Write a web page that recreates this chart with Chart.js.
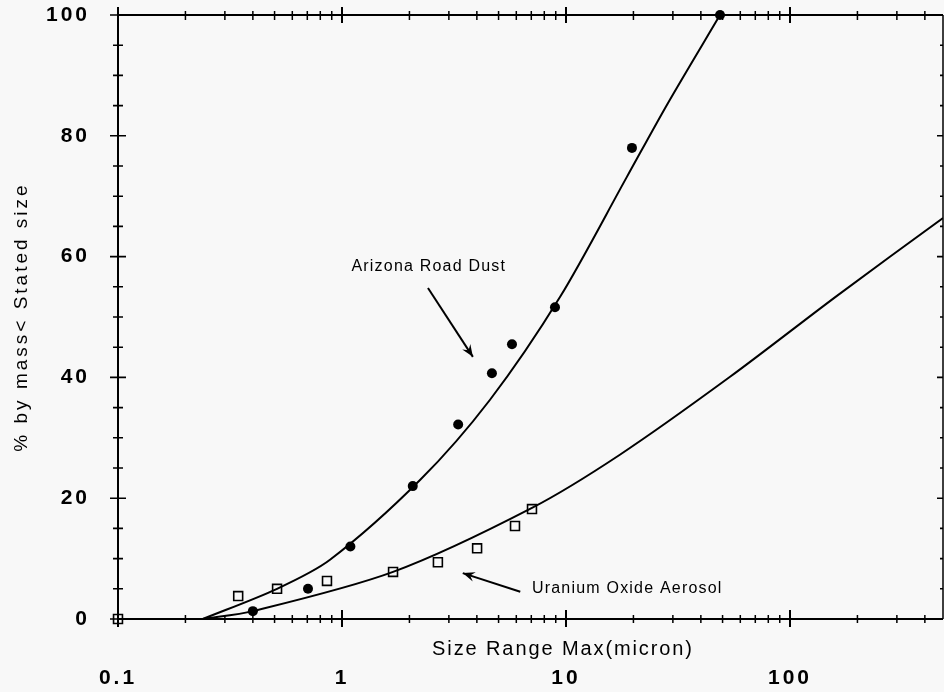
<!DOCTYPE html>
<html>
<head>
<meta charset="utf-8">
<script src="https://cdn.jsdelivr.net/npm/chart.js@4.4.1/dist/chart.umd.min.js"></script>
<style>
  html, body { margin: 0; padding: 0; background: #f8f8f8; }
  #myChart { display: block; }
</style>
</head>
<body>
<canvas id="myChart" width="944" height="692"></canvas>
<script>
// Arizona road dust, measured points (size in micron, cumulative % by mass)
var dustSize = [0.40, 0.705, 1.09, 2.07, 3.30, 4.67, 5.74, 8.93, 19.7, 48.7];
var dustPct  = [1.3, 5.0, 12.0, 22.0, 32.2, 40.7, 45.5, 51.6, 78.0, 100];
// fitted curve through the dust data
var dustFitSize = [0.239, 0.513, 0.884, 2.23, 4.58, 9.4, 18.7, 28.5, 48.7];
var dustFitPct  = [0, 5.0, 9.8, 23.0, 36.3, 53.3, 73.2, 85.4, 100];

// uranium oxide aerosol, measured points
var uoxSize = [0.1, 0.344, 0.513, 0.857, 1.69, 2.68, 4.01, 5.92, 7.05];
var uoxPct  = [0, 3.8, 5.0, 6.3, 7.8, 9.4, 11.7, 15.4, 18.2];
// fitted curve through the aerosol data
var uoxFitSize = [0.239, 0.40, 1.69, 7.05, 17.4, 54.0, 162, 482];
var uoxFitPct  = [0, 1.3, 7.8, 18.4, 27.2, 40.1, 53.5, 66.4];

// axes
var xMin = 0.1, xMax = 482;
var xTicks = [0.1, 1, 10, 100];
var yTicks = [0, 20, 40, 60, 80, 100];
var yMinor = [5, 10, 15, 25, 30, 35, 45, 50, 55, 65, 70, 75, 85, 90, 95];

var xTitle = "Size Range Max(micron)";
var yTitle = "% by mass< Stated size";

// callouts: text anchor and arrow (from -> to), in data units
var notes = [
    {text: "Arizona Road Dust", x: 2.44, y: 58.3, align: "center",
     from: [2.42, 54.8], to: [3.84, 43.4]},
    {text: "Uranium Oxide Aerosol", x: 7.05, y: 5.1, align: "left",
     from: [6.25, 4.5], to: [3.46, 7.6]}
];

var FONT = "'Liberation Sans', Arial, Helvetica, sans-serif";

function pairs(xs, ys) {
    var out = [];
    for (var i = 0; i < xs.length; i++) out.push({x: xs[i], y: ys[i]});
    return out;
}

function noPadding(scale) {
    scale.paddingTop = 0;
    scale.paddingBottom = 0;
    scale.paddingLeft = 0;
    scale.paddingRight = 0;
}

function arrow(ctx, x1, y1, x2, y2) {
    var ang = Math.atan2(y2 - y1, x2 - x1);
    var len = 13, spread = 0.38;
    ctx.beginPath();
    ctx.moveTo(x1, y1);
    ctx.lineTo(x2, y2);
    ctx.stroke();
    ctx.beginPath();
    ctx.moveTo(x2, y2);
    ctx.lineTo(x2 - len * Math.cos(ang - spread), y2 - len * Math.sin(ang - spread));
    ctx.lineTo(x2 - len * 0.6 * Math.cos(ang), y2 - len * 0.6 * Math.sin(ang));
    ctx.lineTo(x2 - len * Math.cos(ang + spread), y2 - len * Math.sin(ang + spread));
    ctx.closePath();
    ctx.fill();
}

// boxed frame with crossing tick marks, x title and callouts
var framePlugin = {
    id: "frame",
    beforeDraw: function(chart) {
        chart.ctx.letterSpacing = "3px";
    },
    afterDatasetsDraw: function(chart) {
        var ctx = chart.ctx, a = chart.chartArea;
        var xs = chart.scales.x, ys = chart.scales.y;
        ctx.save();
        ctx.letterSpacing = "0px";
        ctx.strokeStyle = "#000";
        ctx.fillStyle = "#000";

        ctx.lineWidth = 2;
        ctx.beginPath();
        ctx.moveTo(a.left, a.top);
        ctx.lineTo(a.left, a.bottom);
        ctx.lineTo(a.right, a.bottom);
        ctx.moveTo(a.left, a.top);
        ctx.lineTo(a.right, a.top);
        ctx.stroke();
        ctx.lineWidth = 1.5;
        ctx.beginPath();
        ctx.moveTo(a.right, a.top);
        ctx.lineTo(a.right, a.bottom);
        ctx.stroke();

        // log ticks along top and bottom
        for (var d = 0; d < xTicks.length; d++) {
            for (var m = 1; m <= 9; m++) {
                var v = xTicks[d] * m;
                if (v > xMax) break;
                var px = xs.getPixelForValue(v);
                var major = (m === 1);
                ctx.lineWidth = major ? 2 : 1.5;
                ctx.beginPath();
                if (major) {
                    ctx.moveTo(px, a.bottom - 9); ctx.lineTo(px, a.bottom + 8);
                    ctx.moveTo(px, a.top - 8); ctx.lineTo(px, a.top + 8);
                } else {
                    ctx.moveTo(px, a.bottom - 4); ctx.lineTo(px, a.bottom + 4);
                    ctx.moveTo(px, a.top - 4); ctx.lineTo(px, a.top + 5);
                }
                ctx.stroke();
            }
        }

        // left and right ticks
        ctx.lineWidth = 1.6;
        yTicks.forEach(function(v) {
            var py = ys.getPixelForValue(v);
            ctx.beginPath();
            ctx.moveTo(a.left - 8, py); ctx.lineTo(a.left + 8, py);
            ctx.moveTo(a.right - 6, py); ctx.lineTo(a.right, py);
            ctx.stroke();
        });
        yMinor.forEach(function(v) {
            var py = ys.getPixelForValue(v);
            ctx.beginPath();
            ctx.moveTo(a.left - 5, py); ctx.lineTo(a.left + 5, py);
            ctx.moveTo(a.right - 3, py); ctx.lineTo(a.right, py);
            ctx.stroke();
        });

        // x axis title sits between the axis and its numbers
        ctx.font = "20px " + FONT;
        ctx.letterSpacing = "1.9px";
        ctx.textAlign = "center";
        ctx.textBaseline = "middle";
        ctx.fillText(xTitle, 563, 649);

        // callouts
        ctx.font = "16px " + FONT;
        ctx.letterSpacing = "1.2px";
        ctx.lineWidth = 2;
        notes.forEach(function(n) {
            ctx.textAlign = n.align;
            ctx.fillText(n.text, xs.getPixelForValue(n.x), ys.getPixelForValue(n.y));
            arrow(ctx,
                xs.getPixelForValue(n.from[0]), ys.getPixelForValue(n.from[1]),
                xs.getPixelForValue(n.to[0]), ys.getPixelForValue(n.to[1]));
        });
        ctx.restore();
    }
};

var chart = new Chart(document.getElementById("myChart"), {
    type: "scatter",
    data: {
        datasets: [
            {
                label: "Arizona Road Dust",
                data: pairs(dustSize, dustPct),
                pointStyle: "circle",
                pointRadius: 5,
                pointBackgroundColor: "#000",
                pointBorderWidth: 0,
                clip: false,
                order: 0
            },
            {
                label: "Uranium Oxide Aerosol",
                data: pairs(uoxSize, uoxPct),
                pointStyle: "rect",
                pointRadius: 6.3,
                pointBackgroundColor: "rgba(0,0,0,0)",
                pointBorderColor: "#000",
                pointBorderWidth: 1.6,
                clip: false,
                order: 1
            },
            {
                label: "dust fit",
                data: pairs(dustFitSize, dustFitPct),
                showLine: true,
                borderColor: "#000",
                borderWidth: 2,
                pointRadius: 0,
                tension: 0.3,
                clip: false,
                order: 2
            },
            {
                label: "aerosol fit",
                data: pairs(uoxFitSize, uoxFitPct),
                showLine: true,
                borderColor: "#000",
                borderWidth: 2,
                pointRadius: 0,
                tension: 0.3,
                order: 3
            }
        ]
    },
    options: {
        responsive: false,
        animation: false,
        layout: {autoPadding: false, padding: {top: 15, right: 1, left: 0, bottom: 0}},
        plugins: {legend: {display: false}, tooltip: {enabled: false}},
        scales: {
            x: {
                type: "logarithmic",
                min: xMin,
                max: xMax,
                grid: {display: false, drawTicks: false},
                border: {display: false},
                afterBuildTicks: function(scale) {
                    scale.ticks = xTicks.map(function(v) { return {value: v}; });
                },
                afterFit: function(scale) { scale.height = 73; noPadding(scale); },
                ticks: {
                    autoSkip: false,
                    maxRotation: 0,
                    padding: 47,
                    color: "#000",
                    font: {family: FONT, size: 21, weight: "bold"},
                    callback: function(v) { return String(v); }
                }
            },
            y: {
                min: 0,
                max: 100,
                grid: {display: false, drawTicks: false},
                border: {display: false},
                afterBuildTicks: function(scale) {
                    scale.ticks = yTicks.map(function(v) { return {value: v}; });
                },
                afterFit: function(scale) { scale.width = 118; noPadding(scale); },
                ticks: {
                    padding: 28,
                    color: "#000",
                    font: {family: FONT, size: 21, weight: "bold"}
                },
                title: {
                    display: true,
                    text: yTitle,
                    color: "#000",
                    padding: {top: 10, bottom: 0},
                    font: {family: FONT, size: 19}
                }
            }
        }
    },
    plugins: [framePlugin]
});
</script>
</body>
</html>
